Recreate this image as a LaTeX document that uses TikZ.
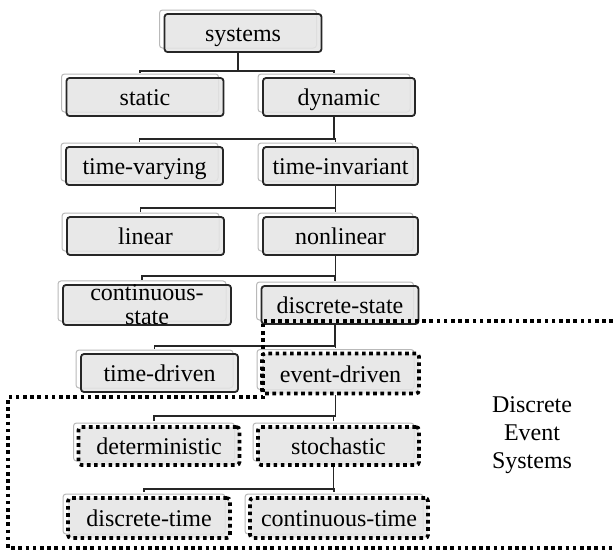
\documentclass[tikz,border=0pt]{standalone}
\usepackage{fontspec}
\setmainfont{Liberation Serif}
\usetikzlibrary{shadows}

\begin{document}
\begin{tikzpicture}[x=0.5pt,y=-0.5pt,
  box/.style={draw=black!85,line width=0.9pt,rounded corners=1.5pt,fill=gray!20,
    fill opacity=0.85,text opacity=1,minimum width=78.5pt,minimum height=19pt,
    inner xsep=2pt,inner ysep=0pt,text height=11pt,text depth=2.5pt,
    font=\fontsize{12}{12}\selectfont,
    copy shadow={shadow xshift=-2.5pt,shadow yshift=2pt,draw=gray!55,
      line width=0.5pt,solid,fill=white,fill opacity=1}},
  desbox/.style={box,draw=black,line width=1.8pt,dash pattern=on 1.8pt off 1.8pt},
  desline/.style={line width=1.8pt,dash pattern=on 1.8pt off 1.8pt},
  link/.style={draw=black!85,line width=0.9pt}]
  \useasboundingbox (0,0) rectangle (613,552);

  % the tree of system classes
  \node[box] (systems) at (243,33) {systems};
  \node[box] (static) at (145,97) {static};
  \node[box,minimum width=76pt] (dynamic) at (339,97) {dynamic};
  \node[box] (varying) at (144.5,166) {time-varying};
  \node[box,minimum width=77.5pt] (invariant) at (340.5,166) {time-invariant};
  \node[box] (linear) at (145.5,236) {linear};
  \node[box,minimum width=77.5pt] (nonlinear) at (340.5,236) {nonlinear};
  \node[box,minimum width=84pt,align=center,text height=,text depth=] (contstate) at (147,305)
    {continuous-\\state};
  \node[box] (discstate) at (340,305) {discrete-state};
  \node[box] (timedriven) at (159.5,373) {time-driven};

  % the discrete event part (dotted frames)
  \node[desbox,minimum height=20pt] (eventdriven) at (340.5,373.5) {event-driven};
  \node[desbox,minimum width=80.5pt] (determ) at (159,446) {deterministic};
  \node[desbox,minimum width=80.5pt] (stoch) at (338.5,446) {stochastic};
  \node[desbox,minimum width=81pt,minimum height=20pt] (disctime) at (149,518) {discrete-time};
  \node[desbox,minimum width=89pt,minimum height=20pt] (conttime) at (339,518) {continuous-time};

  % branches: down from the parent, across, down to each child
  \draw[link] ([shift={(-5,0)}]systems.south) -- ++(0,18) -| ([shift={(-5,-4)}]static.north);
  \draw[link] ([shift={(-5,0)}]systems.south) -- ++(0,18) -| ([shift={(-5,-4)}]dynamic.north);
  \draw[link] ([shift={(-5,0)}]dynamic.south) -- ++(0,22) -| ([shift={(-5,-4)}]varying.north);
  \draw[link] ([shift={(-5,0)}]dynamic.south) -- ++(0,22) -| ([shift={(-5,-4)}]invariant.north);
  \draw[link] ([shift={(-5,0)}]invariant.south) -- ++(0,22) -| ([shift={(-5,-4)}]linear.north);
  \draw[link] ([shift={(-5,0)}]invariant.south) -- ++(0,22) -| ([shift={(-5,-4)}]nonlinear.north);
  \draw[link] ([shift={(-5,0)}]nonlinear.south) -- ++(0,20) -| ([shift={(-5,-4)}]contstate.north);
  \draw[link] ([shift={(-5,0)}]nonlinear.south) -- ++(0,20) -| ([shift={(-5,-4)}]discstate.north);
  \draw[link] ([shift={(-5,0)}]discstate.south) -- ++(0,21) -| ([shift={(-5,-4)}]timedriven.north);
  \draw[link] ([shift={(-5,0)}]discstate.south) -- ++(0,21) -| ([shift={(-5,-4)}]eventdriven.north);
  \draw[link] ([shift={(-5,0)}]eventdriven.south) -- ++(0,21) -| ([shift={(-5,-4)}]determ.north);
  \draw[link] ([shift={(-5,0)}]eventdriven.south) -- ++(0,21) -| ([shift={(-5,-4)}]stoch.north);
  \draw[link] ([shift={(-5,0)}]stoch.south) -- ++(0,22) -| ([shift={(-5,-4)}]disctime.north);
  \draw[link] ([shift={(-5,0)}]stoch.south) -- ++(0,22) -| ([shift={(-5,-4)}]conttime.north);

  % region of the discrete event systems
  \draw[desline] (613,321) -- (263,321) -- (263,397) -- (8,397) -- (8,548) -- (613,548);
  \node[align=center,font=\fontsize{12}{14}\selectfont] (deslabel) at (532,435)
    {Discrete\\Event\\Systems};
\end{tikzpicture}
\end{document}
